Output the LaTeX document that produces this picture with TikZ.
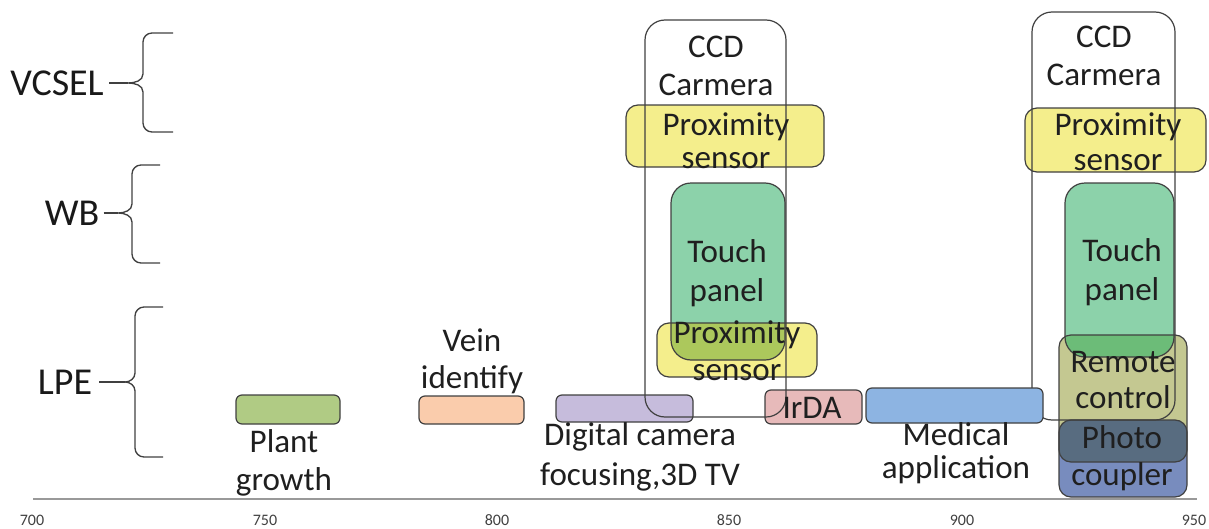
\documentclass[tikz,border=0pt]{standalone}
\usepackage{fontspec}
\setmainfont{Carlito}
\definecolor{proxY}{RGB}{244,238,140}
\definecolor{touchG}{RGB}{140,210,170}
\definecolor{remoteK}{RGB}{196,200,145}
\definecolor{photoB}{RGB}{120,140,190}
\definecolor{medB}{RGB}{141,180,226}
\definecolor{purpleL}{RGB}{198,188,220}
\definecolor{irdaP}{RGB}{231,186,186}
\definecolor{veinO}{RGB}{250,204,172}
\definecolor{plantG}{RGB}{176,203,132}
\definecolor{ovTP}{RGB}{172,200,92}
\definecolor{ovTR}{RGB}{108,188,120}
\definecolor{ovRP}{RGB}{88,108,128}
\begin{document}
\begin{tikzpicture}[x=0.75pt,y=-0.75pt,
 ol/.style={draw=black!75, line width=0.9pt},
 sbox/.style={ol, rounded corners=4.5pt},
 mbox/.style={ol, rounded corners=9pt},
 bbox/.style={ol, rounded corners=15pt},
 lbl/.style={font=\fontsize{24.8}{#1}\selectfont, align=center, text=black!88, inner sep=0pt},
 lbl/.default=28,
 side/.style={font=\fontsize{28.5}{30}\selectfont, text=black!90, inner sep=0pt},
 ticklbl/.style={font=\fontsize{12}{13}\selectfont, text=black!75, inner sep=0pt},
 brace/.style={draw=black!75, line width=1pt}]

\useasboundingbox (0,0) rectangle (1209,528);

% axis
\coordinate (axL) at (33,499);
\coordinate (axR) at (1197,499);
\draw[black!40, line width=1.3pt] (axL) -- (axR);
\node[ticklbl] (t700) at (32,520) {700};
\node[ticklbl] (t750) at (265,520) {750};
\node[ticklbl] (t800) at (497,520) {800};
\node[ticklbl] (t850) at (729,520) {850};
\node[ticklbl] (t900) at (962,520) {900};
\node[ticklbl] (t950) at (1194,520) {950};

% side labels and braces
\node[side] (vcsel) at (57,83) {VCSEL};
\node[side] (wb) at (72,213) {WB};
\node[side] (lpe) at (65,382) {LPE};
\coordinate (bv) at (128,83);
\coordinate (bw) at (118,213);
\coordinate (bl) at (125,382);
\draw[brace] ([xshift=4pt]vcsel.east) -- (bv);
\draw[brace] ([xshift=3pt]wb.east) -- (bw);
\draw[brace] ([xshift=5pt]lpe.east) -- (bl);
\draw[brace] (173,33) -- (152,33) to[out=180,in=90] (143,42) -- (143,74)
  to[out=-90,in=0] (bv) to[out=0,in=90] (143,92) -- (143,123) to[out=-90,in=180] (152,132) -- (173,132);
\draw[brace] (160,165) -- (141,165) to[out=180,in=90] (132,174) -- (132,204)
  to[out=-90,in=0] (bw) to[out=0,in=90] (132,222) -- (132,254) to[out=-90,in=180] (141,263) -- (160,263);
\draw[brace] (163,307) -- (144,307) to[out=180,in=90] (135,316) -- (135,373)
  to[out=-90,in=0] (bl) to[out=0,in=90] (135,391) -- (135,448) to[out=-90,in=180] (144,457) -- (163,457);

% small LPE boxes
\path[sbox, fill=plantG] (236,395) rectangle (340,424);
\path[sbox, fill=veinO] (419,396) rectangle (524,424);
\path[sbox, fill=purpleL] (556,395) rectangle (693,422);
\path[sbox, fill=irdaP] (765,390) rectangle (862,424);

% middle column
\fill[proxY, rounded corners=9pt] (626,105) rectangle (824,167);
\fill[touchG, rounded corners=15pt] (671,183) rectangle (785,360);
\fill[proxY, rounded corners=9pt] (657,323) rectangle (817,377);
\begin{scope}
 \clip[rounded corners=9pt] (657,323) rectangle (817,377);
 \fill[ovTP, rounded corners=15pt] (671,183) rectangle (785,360);
\end{scope}
\draw[mbox] (626,105) rectangle (824,167);
\draw[bbox] (671,183) rectangle (785,360);
\draw[mbox] (657,323) rectangle (817,377);
\draw[bbox] (645,20) rectangle (786,417);

% right column
\fill[proxY, rounded corners=9pt] (1025,108) rectangle (1206,172);
\fill[touchG, rounded corners=15pt] (1065,183) rectangle (1174,357);
\fill[remoteK, rounded corners=9pt] (1059,335) rectangle (1187,462);
\fill[photoB, rounded corners=9pt] (1059,420) rectangle (1187,497);
\begin{scope}
 \clip[rounded corners=9pt] (1059,335) rectangle (1187,462);
 \fill[ovTR, rounded corners=15pt] (1065,183) rectangle (1174,357);
 \fill[ovRP, rounded corners=9pt] (1059,420) rectangle (1187,497);
\end{scope}
\draw[mbox] (1025,108) rectangle (1206,172);
\draw[bbox] (1065,183) rectangle (1174,357);
\draw[mbox] (1059,335) rectangle (1187,462);
\draw[mbox] (1059,420) rectangle (1187,497);
\draw[bbox] (1032,12) rectangle (1175,420);

% medical box
\path[sbox, fill=medB] (866,388) rectangle (1043,423);

% texts
\node[lbl=28.5] (ccd1) at (716,66) {CCD\\Carmera};
\node[lbl=24.5] (prox1) at (726,141) {Proximity\\sensor};
\node[lbl=29] (touch1) at (727,273) {Touch\\panel};
\node[lbl=27.5] (prox2) at (737,351) {Proximity\\sensor};
\node[lbl=28.5] (ccd2) at (1104,56) {CCD\\Carmera};
\node[lbl=26] (prox3) at (1118,142) {Proximity\\sensor};
\node[lbl=29] (touch2) at (1122,272) {Touch\\panel};
\node[lbl=27] (remote) at (1123,380) {Remote\\control};
\node[lbl=27.5] (photo) at (1122,458) {Photo\\coupler};
\node[lbl=28] (plant) at (284,463) {Plant\\growth};
\node[lbl=28] (vein) at (472,361) {Vein\\identify};
\node[lbl=30] (digital) at (640,457) {Digital camera\\focusing,3D TV};
\node[lbl=25] (medical) at (956,453) {Medical\\application};
\node[lbl] (irda) at (812,408) {IrDA};
\end{tikzpicture}
\end{document}
